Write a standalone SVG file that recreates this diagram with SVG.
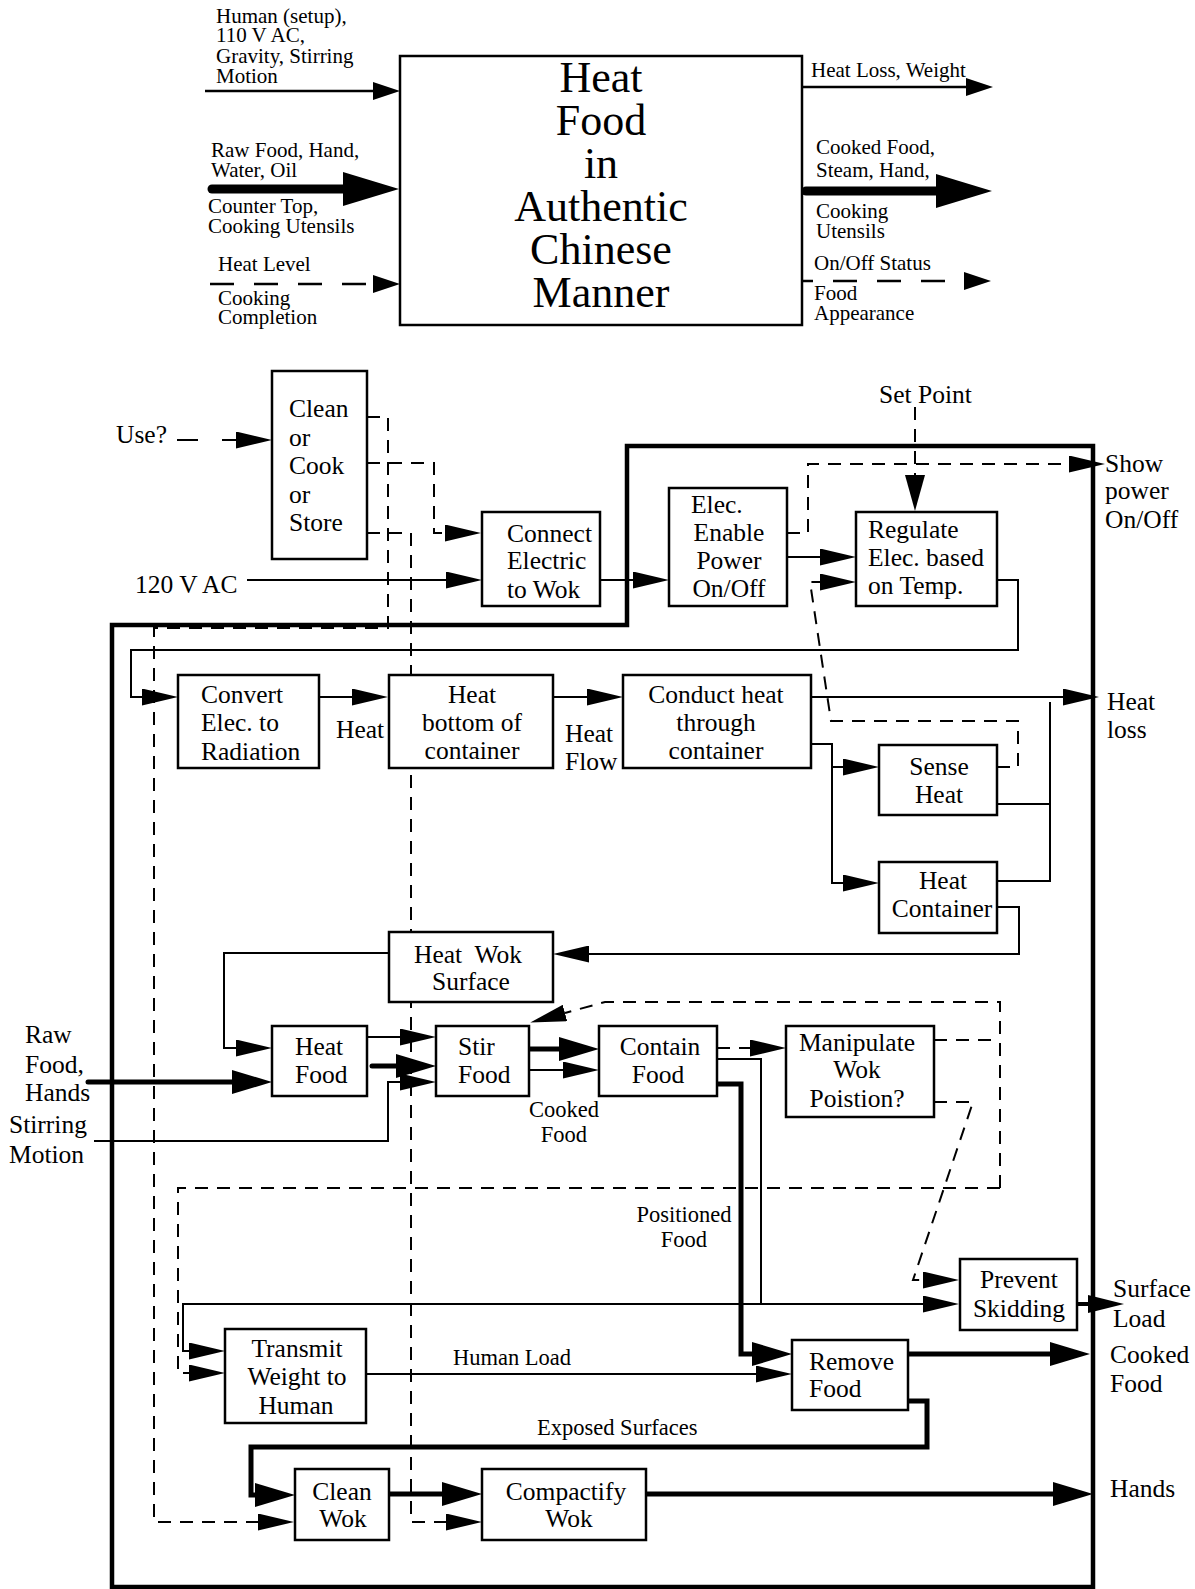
<svg xmlns="http://www.w3.org/2000/svg" width="1195" height="1589" viewBox="0 0 1195 1589">
<style>
.t{font-family:"Liberation Serif","Times New Roman",serif;font-size:25.5px;fill:#000}
.s{font-size:22.5px}
.tl{font-size:21px}
.ti{font-size:44px}
.c{text-anchor:middle}
.box{fill:#fff;stroke:#000;stroke-width:2.5}
.ln{fill:none;stroke:#000;stroke-width:2}
.thk{stroke-width:5}
.dsh{stroke-dasharray:13 9}
.tdsh{stroke-dasharray:24 20}
</style>
<defs>
<marker id="ah" viewBox="0 0 36 17" markerWidth="36" markerHeight="17" refX="0" refY="8.5" orient="auto" markerUnits="userSpaceOnUse"><path d="M0,0 L36,8.5 L0,17 z" fill="#000" stroke="none"/></marker>
<marker id="ahw" viewBox="0 0 36 20" markerWidth="36" markerHeight="20" refX="0" refY="10" orient="auto" markerUnits="userSpaceOnUse"><path d="M0,0 L36,10 L0,20 z" fill="#000" stroke="none"/></marker>
<marker id="ahb" viewBox="0 0 40 24" markerWidth="40" markerHeight="24" refX="0" refY="12" orient="auto" markerUnits="userSpaceOnUse"><path d="M0,0 L40,12 L0,24 z" fill="#000" stroke="none"/></marker>
<marker id="ahs" viewBox="0 0 36 18" markerWidth="36" markerHeight="18" refX="0" refY="9" orient="auto" markerUnits="userSpaceOnUse"><path d="M0,0 L36,9 L0,18 z" fill="#000" stroke="none"/></marker>
<marker id="aht" viewBox="0 0 27 18" markerWidth="27" markerHeight="18" refX="0" refY="9" orient="auto" markerUnits="userSpaceOnUse"><path d="M0,0 L27,9 L0,18 z" fill="#000" stroke="none"/></marker>
<marker id="ahT" viewBox="0 0 56 34" markerWidth="56" markerHeight="34" refX="0" refY="17" orient="auto" markerUnits="userSpaceOnUse"><path d="M0,0 L56,17 L0,34 z" fill="#000" stroke="none"/></marker>
</defs>
<rect width="1195" height="1589" fill="#fff"/>

<!-- context (top) diagram -->
<g id="top-connectors">
<path class="ln" style="stroke-width:2.5" d="M205,91 H373" marker-end="url(#aht)"/>
<path class="ln" style="stroke-width:9;stroke-linecap:round" d="M212,189 H343" marker-end="url(#ahT)"/>
<path class="ln tdsh" style="stroke-width:2.5" d="M210,284 H373" marker-end="url(#aht)"/>
<path class="ln" style="stroke-width:2.5" d="M802,87 H966" marker-end="url(#aht)"/>
<path class="ln" style="stroke-width:9;stroke-linecap:round" d="M806,191 H936" marker-end="url(#ahT)"/>
<path class="ln tdsh" style="stroke-width:2.5;stroke-dashoffset:13" d="M802,281 H964" marker-end="url(#aht)"/>
</g>
<g id="top-labels" class="t tl">
<text x="216" y="23">Human (setup),</text>
<text x="216" y="42">110 V AC,</text>
<text x="216" y="63">Gravity, Stirring</text>
<text x="216" y="83">Motion</text>
<text x="211" y="157">Raw Food, Hand,</text>
<text x="211" y="177">Water, Oil</text>
<text x="208" y="213">Counter Top,</text>
<text x="208" y="233">Cooking Utensils</text>
<text x="218" y="271">Heat Level</text>
<text x="218" y="305">Cooking</text>
<text x="218" y="324">Completion</text>
<text x="811" y="77">Heat Loss, Weight</text>
<text x="816" y="154">Cooked Food,</text>
<text x="816" y="177">Steam, Hand,</text>
<text x="816" y="218">Cooking</text>
<text x="816" y="238">Utensils</text>
<text x="814" y="270">On/Off Status</text>
<text x="814" y="300">Food</text>
<text x="814" y="320">Appearance</text>
</g>
<g id="top-node">
<rect class="box" x="400" y="56" width="402" height="269"/>
<text class="t ti c" x="601" y="92">Heat</text>
<text class="t ti c" x="601" y="135">Food</text>
<text class="t ti c" x="601" y="178">in</text>
<text class="t ti c" x="601" y="221">Authentic</text>
<text class="t ti c" x="601" y="264">Chinese</text>
<text class="t ti c" x="601" y="307">Manner</text>
</g>

<!-- system boundary -->
<g id="boundary">
<path d="M112,1587 V625 H627 V446 H1093 V1587 Z" fill="none" stroke="#000" stroke-width="4.5" stroke-linejoin="miter"/>
</g>

<g id="connectors">
<path class="ln" style="stroke-dasharray:21 24" d="M177,440 H236" marker-end="url(#ah)"/>
<path class="ln dsh" d="M367,417 H388 V628 H154 V1522 H258" marker-end="url(#ah)"/>
<path class="ln dsh" d="M367,463 H434 V533 H445" marker-end="url(#ah)"/>
<path class="ln dsh" d="M367,533 H411 V1522 H446" marker-end="url(#ah)"/>
<path class="ln" d="M247,580 H446" marker-end="url(#ah)"/>
<path class="ln" d="M600,580 H633" marker-end="url(#ah)"/>
<path class="ln" d="M787,557 H820" marker-end="url(#ah)"/>
<path class="ln dsh" d="M997,767 H1018 V721 H831 L810,582 H820" marker-end="url(#ah)"/>
<path class="ln dsh" d="M787,533 H808 V464 H1069" marker-end="url(#ah)"/>
<path class="ln dsh" d="M915,407 V475" marker-end="url(#ahw)"/>
<path class="ln" d="M997,580 H1018 V650 H131 V697 H142" marker-end="url(#ah)"/>
<path class="ln" d="M319,697 H352" marker-end="url(#ah)"/>
<path class="ln" d="M553,697 H587" marker-end="url(#ah)"/>
<path class="ln" d="M811,697 H1063" marker-end="url(#ah)"/>
<path class="ln" d="M811,744 H832 V883 H843" marker-end="url(#ah)"/>
<path class="ln" d="M832,767 H843" marker-end="url(#ah)"/>
<path class="ln" d="M1050,702 V881 H997 M1050,804 H997"/>
<path class="ln" d="M997,907 H1019 V954 H589" marker-end="url(#ah)"/>
<path class="ln" d="M389,953 H224 V1048 H236" marker-end="url(#ah)"/>
<path class="ln thk" style="stroke-linecap:round" d="M88,1082 H232" marker-end="url(#ahb)"/>
<path class="ln" d="M94,1141 H388 V1082 H400" marker-end="url(#ah)"/>
<path class="ln" d="M367,1037 H400" marker-end="url(#ah)"/>
<path class="ln thk" style="stroke-linecap:round" d="M372,1066 H396" marker-end="url(#ahb)"/>
<path class="ln thk" d="M529,1049 H559" marker-end="url(#ahb)"/>
<path class="ln" d="M529,1070 H563" marker-end="url(#ah)"/>
<path class="ln dsh" d="M717,1048 H750" marker-end="url(#ah)"/>
<path class="ln dsh" d="M934,1040 H1000"/>
<path class="ln dsh" d="M1000,1188 V1002 H605 L565,1013" marker-end="url(#ah)"/>
<path class="ln dsh" d="M1000,1188 H178 V1373 H189" marker-end="url(#ah)"/>
<path class="ln dsh" d="M934,1102 H973 L913,1280 H923" marker-end="url(#ah)"/>
<path class="ln" d="M717,1059 H761 V1304"/>
<path class="ln" d="M183,1351 V1304 H923" marker-end="url(#ah)"/>
<path class="ln" d="M183,1340 V1351 H189" marker-end="url(#ah)"/>
<path class="ln thk" d="M717,1084 H741 V1354 H752" marker-end="url(#ahb)"/>
<path class="ln" d="M366,1374 H756" marker-end="url(#ah)"/>
<path class="ln thk" d="M908,1354 H1050" marker-end="url(#ahb)"/>
<path class="ln thk" d="M908,1401 H927 V1447 H251 V1495 H255" marker-end="url(#ahb)"/>
<path class="ln thk" d="M389,1494 H442" marker-end="url(#ahb)"/>
<path class="ln thk" d="M646,1494 H1053" marker-end="url(#ahb)"/>
<path class="ln" style="stroke-width:4" d="M1077,1304 H1088" marker-end="url(#ahs)"/>
</g>

<g id="external-labels" class="t">
<text x="116" y="443">Use?</text>
<text x="135" y="593">120 V AC</text>
<text x="879" y="403">Set Point</text>
<text x="1105" y="472">Show</text>
<text x="1105" y="499">power</text>
<text x="1105" y="528">On/Off</text>
<text x="336" y="738">Heat</text>
<text x="565" y="742">Heat</text>
<text x="565" y="770">Flow</text>
<text x="1107" y="710">Heat</text>
<text x="1107" y="738">loss</text>
<text x="25" y="1043">Raw</text>
<text x="25" y="1073">Food,</text>
<text x="25" y="1101">Hands</text>
<text x="9" y="1133">Stirring</text>
<text x="9" y="1163">Motion</text>
<text class="s c" x="564" y="1117">Cooked</text>
<text class="s c" x="564" y="1142">Food</text>
<text class="s c" x="684" y="1222">Positioned</text>
<text class="s c" x="684" y="1247">Food</text>
<text x="1113" y="1297">Surface</text>
<text x="1113" y="1327">Load</text>
<text class="s" x="453" y="1365">Human Load</text>
<text x="1110" y="1363">Cooked</text>
<text x="1110" y="1392">Food</text>
<text class="s" x="537" y="1435">Exposed Surfaces</text>
<text x="1110" y="1497">Hands</text>
</g>

<g id="node-clean-cook-store">
<rect class="box" x="272" y="371" width="95" height="188"/>
<text class="t" x="289" y="417">Clean</text>
<text class="t" x="289" y="446">or</text>
<text class="t" x="289" y="474">Cook</text>
<text class="t" x="289" y="503">or</text>
<text class="t" x="289" y="531">Store</text>
</g>
<g id="node-connect">
<rect class="box" x="482" y="512" width="118" height="94"/>
<text class="t" x="507" y="542">Connect</text>
<text class="t" x="507" y="569">Electric</text>
<text class="t" x="507" y="598">to Wok</text>
</g>
<g id="node-enable">
<rect class="box" x="669" y="488" width="118" height="118"/>
<text class="t" x="691" y="513">Elec.</text>
<text class="t c" x="729" y="541">Enable</text>
<text class="t c" x="729" y="569">Power</text>
<text class="t c" x="729" y="597">On/Off</text>
</g>
<g id="node-regulate">
<rect class="box" x="856" y="512" width="141" height="94"/>
<text class="t" x="868" y="538">Regulate</text>
<text class="t" x="868" y="566">Elec. based</text>
<text class="t" x="868" y="594">on Temp.</text>
</g>
<g id="node-convert">
<rect class="box" x="178" y="675" width="141" height="93"/>
<text class="t" x="201" y="703">Convert</text>
<text class="t" x="201" y="731">Elec. to</text>
<text class="t" x="201" y="760">Radiation</text>
</g>
<g id="node-heat-bottom">
<rect class="box" x="389" y="675" width="164" height="93"/>
<text class="t c" x="472" y="703">Heat</text>
<text class="t c" x="472" y="731">bottom of</text>
<text class="t c" x="472" y="759">container</text>
</g>
<g id="node-conduct">
<rect class="box" x="623" y="675" width="188" height="93"/>
<text class="t c" x="716" y="703">Conduct heat</text>
<text class="t c" x="716" y="731">through</text>
<text class="t c" x="716" y="759">container</text>
</g>
<g id="node-sense">
<rect class="box" x="879" y="745" width="118" height="70"/>
<text class="t c" x="939" y="775">Sense</text>
<text class="t c" x="939" y="803">Heat</text>
</g>
<g id="node-heat-container">
<rect class="box" x="879" y="862" width="118" height="71"/>
<text class="t c" x="943" y="889">Heat</text>
<text class="t c" x="942" y="917">Container</text>
</g>
<g id="node-heat-wok">
<rect class="box" x="389" y="932" width="164" height="70"/>
<text class="t c" x="468" y="963" xml:space="preserve">Heat  Wok</text>
<text class="t c" x="471" y="990">Surface</text>
</g>
<g id="node-heat-food">
<rect class="box" x="272" y="1026" width="95" height="70"/>
<text class="t" x="295" y="1055">Heat</text>
<text class="t" x="295" y="1083">Food</text>
</g>
<g id="node-stir">
<rect class="box" x="436" y="1026" width="93" height="70"/>
<text class="t" x="458" y="1055">Stir</text>
<text class="t" x="458" y="1083">Food</text>
</g>
<g id="node-contain">
<rect class="box" x="599" y="1026" width="118" height="70"/>
<text class="t c" x="660" y="1055">Contain</text>
<text class="t c" x="658" y="1083">Food</text>
</g>
<g id="node-manipulate">
<rect class="box" x="786" y="1026" width="148" height="91"/>
<text class="t c" x="857" y="1051">Manipulate</text>
<text class="t c" x="857" y="1078">Wok</text>
<text class="t c" x="857" y="1107">Poistion?</text>
</g>
<g id="node-prevent">
<rect class="box" x="960" y="1259" width="117" height="71"/>
<text class="t c" x="1019" y="1288">Prevent</text>
<text class="t c" x="1019" y="1317">Skidding</text>
</g>
<g id="node-transmit">
<rect class="box" x="225" y="1329" width="141" height="94"/>
<text class="t c" x="297" y="1357">Transmit</text>
<text class="t c" x="297" y="1385">Weight to</text>
<text class="t c" x="296" y="1414">Human</text>
</g>
<g id="node-remove">
<rect class="box" x="792" y="1340" width="116" height="70"/>
<text class="t" x="809" y="1370">Remove</text>
<text class="t" x="809" y="1397">Food</text>
</g>
<g id="node-clean-wok">
<rect class="box" x="295" y="1469" width="94" height="71"/>
<text class="t c" x="342" y="1500">Clean</text>
<text class="t c" x="343" y="1527">Wok</text>
</g>
<g id="node-compactify">
<rect class="box" x="482" y="1469" width="164" height="71"/>
<text class="t c" x="566" y="1500">Compactify</text>
<text class="t c" x="569" y="1527">Wok</text>
</g>
</svg>
